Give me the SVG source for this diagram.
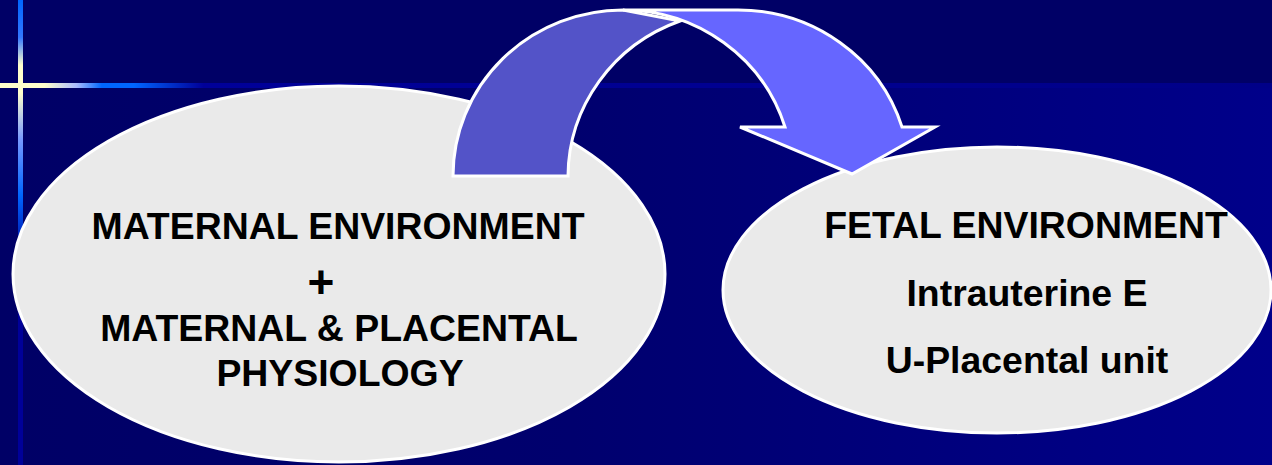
<svg xmlns="http://www.w3.org/2000/svg" width="1272" height="465" viewBox="0 0 1272 465">
<defs>
<linearGradient id="bgLow" x1="0" y1="0" x2="1272" y2="0" gradientUnits="userSpaceOnUse">
<stop offset="0" stop-color="#000066"/>
<stop offset="0.45" stop-color="#00006e"/>
<stop offset="1" stop-color="#00008a"/>
</linearGradient>
<linearGradient id="hLine" x1="0" y1="0" x2="1272" y2="0" gradientUnits="userSpaceOnUse">
<stop offset="0" stop-color="#ffffcc"/>
<stop offset="0.035" stop-color="#ffffcc"/>
<stop offset="0.06" stop-color="#aabbff"/>
<stop offset="0.08" stop-color="#0066ff"/>
<stop offset="0.105" stop-color="#0066ff"/>
<stop offset="0.16" stop-color="#000099"/>
<stop offset="1" stop-color="#000088"/>
</linearGradient>
<linearGradient id="vLine" x1="0" y1="0" x2="0" y2="465" gradientUnits="userSpaceOnUse">
<stop offset="0" stop-color="#0066ff"/>
<stop offset="0.08" stop-color="#3377ff"/>
<stop offset="0.14" stop-color="#ffffcc"/>
<stop offset="0.2" stop-color="#ffffcc"/>
<stop offset="0.3" stop-color="#7799ff"/>
<stop offset="0.42" stop-color="#0066ff"/>
<stop offset="0.56" stop-color="#000099"/>
<stop offset="1" stop-color="#000099"/>
</linearGradient>
</defs>
<style>
.oval{fill:#eaeaea;stroke:#ffffff;stroke-width:3}
.lbl{font-family:"Liberation Sans",Arial,sans-serif;font-weight:bold;font-size:37.4px;fill:#000000;text-anchor:middle}
.plus{font-size:46px}
.arrow{stroke:#ffffff;stroke-width:3;stroke-linejoin:miter}
</style>
<g id="background">
<rect x="0" y="0" width="1272" height="465" fill="#000066"/>
<rect x="0" y="85" width="1272" height="380" fill="url(#bgLow)"/>
<rect x="0" y="83" width="1272" height="5" fill="url(#hLine)"/>
<rect x="18" y="0" width="5" height="465" fill="url(#vLine)"/>
</g>
<g id="maternal">
<ellipse class="oval" cx="339" cy="274" rx="326" ry="188"/>
<text class="lbl" x="338" y="239">MATERNAL ENVIRONMENT</text>
<text class="lbl plus" x="321" y="298">+</text>
<text class="lbl" x="339" y="341">MATERNAL &amp; PLACENTAL</text>
<text class="lbl" x="340" y="386">PHYSIOLOGY</text>
</g>
<g id="fetal">
<ellipse class="oval" cx="997" cy="290" rx="274" ry="143"/>
<text class="lbl" x="1026" y="238">FETAL ENVIRONMENT</text>
<text class="lbl" x="1027" y="306">Intrauterine E</text>
<text class="lbl" x="1027" y="373">U-Placental unit</text>
</g>
<g id="connectors">
<path class="arrow" fill="#5353c8" d="M453,176 A170,166 0 0 1 623,10 L680,21 A170,166 0 0 0 568,176 Z"/>
<path class="arrow" fill="#6666ff" d="M623,10 L738,10 A172,166 0 0 1 902,127 L935,127 L852,174 L740,127 L785,127 A170,166 0 0 0 623,10 Z"/>
</g>
</svg>
